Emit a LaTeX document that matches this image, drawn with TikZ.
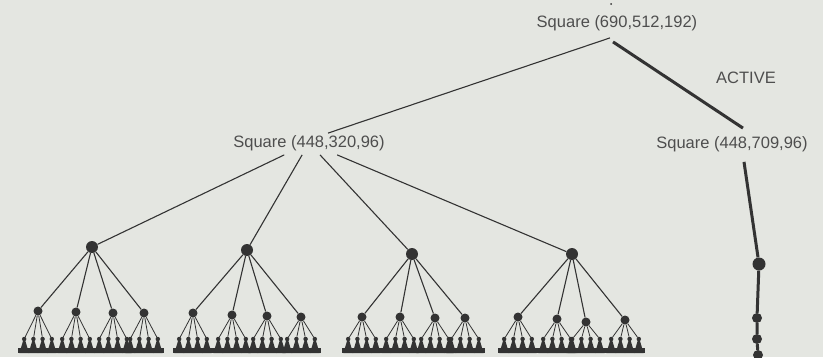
\documentclass[tikz,border=0pt]{standalone}
\usepackage{fontspec}
\setmainfont{Liberation Sans}
\usetikzlibrary{calc}
\definecolor{paper}{HTML}{E4E6E1}
\definecolor{ink}{HTML}{333333}
\definecolor{txt}{HTML}{4E4E4E}
\tikzset{
  knot/.style={circle, fill=ink, inner sep=0pt, minimum size=12pt},
  twig/.style={circle, fill=ink, inner sep=0pt, minimum size=9pt},
  leaf/.style={circle, fill=ink, inner sep=0pt, minimum size=4.5pt},
  sqlabel/.style={text=txt, font=\fontsize{16.5}{20}\selectfont, inner sep=4pt},
  edge/.style={draw=ink, line width=1.1pt},
  hot/.style={draw=ink, line width=3pt},
}
% level-2 square with its 4 children: #1 name, #2 x, #3 y
\newcommand{\leafgroup}[3]{\node[twig] (#1) at (#2,#3) {};
  \foreach \k/\d in {1/-13.8,2/-4.6,3/4.6,4/13.8}{
    \node[leaf] (#1\k) at ({#2+\d},339) {};
    \fill[ink] ({#2+\d},337) -- ({#2+\d-4.8},353) -- ({#2+\d+4.8},353) -- cycle;
    \draw[edge, line width=0.8pt] (#1) -- (#1\k);}
  \fill[ink] ({#2-20},348) rectangle ({#2+20},353);}

\begin{document}
\begin{tikzpicture}[x=1pt, y=-1pt]
  \fill[paper] (0,0) rectangle (823,357);
  \useasboundingbox (0,0) rectangle (823,357);
  % labels
  \node[sqlabel] (root) at (617,23) {Square (690,512,192)};
  \node[sqlabel] (sq1) at (309,143) {Square (448,320,96)};
  \node[sqlabel] (sq2) at (732,144) {Square (448,709,96)};
  \node[sqlabel] (act) at (746,78) {ACTIVE};
  \fill[ink] (611,4) circle (1pt);
  \draw[edge] ($(root.south)+(-7,3)$) -- ($(sq1.north)+(19,2)$);
  \draw[hot] ($(root.south)+(-4,7)$) -- ($(sq2.north)+(11,-4)$);
  % level 1
  \foreach \n/\x/\y in {1/92/247, 2/247/250, 3/412/254, 4/572/254}{
    \node[knot] (a\n) at (\x,\y) {};
    \draw[edge] (sq1) -- (a\n);}
  % level 2
  \leafgroup{b11}{38}{311}\leafgroup{b12}{76}{312}\leafgroup{b13}{113}{313}\leafgroup{b14}{144}{313}
  \leafgroup{b21}{193}{313}\leafgroup{b22}{232}{315}\leafgroup{b23}{267}{316}\leafgroup{b24}{301}{317}
  \leafgroup{b31}{362}{317}\leafgroup{b32}{400}{317}\leafgroup{b33}{435}{318}\leafgroup{b34}{465}{318}
  \leafgroup{b41}{518}{317}\leafgroup{b42}{557}{319}\leafgroup{b43}{586}{322}\leafgroup{b44}{625}{320}
  \foreach \n in {1,2,3,4}{
    \foreach \m in {1,2,3,4}{
      \draw[edge] (a\n) -- (b\n\m);}}
  % active chain
  \node[knot, minimum size=13pt] (c1) at (759,264) {};
  \node[twig, minimum size=10pt] (c2) at (757,318) {};
  \node[twig, minimum size=10pt] (c3) at (757,339) {};
  \node[twig, minimum size=10pt] (c4) at (758,355) {};
  \draw[hot] ($(sq2.south)+(12,6)$) -- (c1);
  \draw[hot] (c1) -- (c2) -- (c3) -- (c4);
\end{tikzpicture}
\end{document}
